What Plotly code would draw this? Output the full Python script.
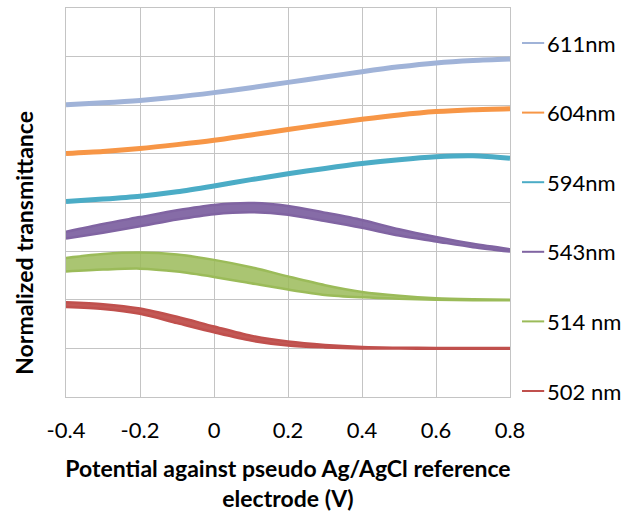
import plotly.graph_objects as go

potential = [-0.4, -0.3, -0.2, -0.1, 0.0, 0.1, 0.2, 0.3, 0.4, 0.5, 0.6, 0.7, 0.8]

t611 = [6.01, 6.05, 6.10, 6.17, 6.26, 6.36, 6.47, 6.58, 6.69, 6.79, 6.87, 6.92, 6.95]
t604 = [5.01, 5.05, 5.11, 5.19, 5.28, 5.39, 5.50, 5.61, 5.71, 5.80, 5.87, 5.91, 5.93]
t594 = [4.02, 4.07, 4.13, 4.22, 4.34, 4.47, 4.59, 4.70, 4.80, 4.88, 4.94, 4.96, 4.91]
t543_hi = [3.40, 3.56, 3.70, 3.84, 3.95, 3.99, 3.93, 3.79, 3.64, 3.45, 3.29, 3.15, 3.04]
t543_lo = [3.26, 3.38, 3.51, 3.65, 3.76, 3.80, 3.75, 3.62, 3.48, 3.32, 3.20, 3.08, 2.99]
t514_hi = [2.86, 2.94, 2.97, 2.93, 2.82, 2.67, 2.48, 2.30, 2.16, 2.08, 2.03, 2.01, 2.00]
t514_lo = [2.58, 2.62, 2.64, 2.58, 2.47, 2.34, 2.21, 2.10, 2.05, 2.02, 2.00, 1.99, 1.99]
t502_hi = [1.95, 1.91, 1.82, 1.65, 1.45, 1.26, 1.14, 1.07, 1.03, 1.015, 1.01, 1.01, 1.01]
t502_lo = [1.85, 1.81, 1.71, 1.52, 1.33, 1.16, 1.06, 1.02, 1.00, 0.995, 0.99, 0.99, 0.99]

x_ticks = [-0.4, -0.2, 0, 0.2, 0.4, 0.6, 0.8]
x_tick_labels = ["-0.4", "-0.2", "0", "0.2", "0.4", "0.6", "0.8"]

names = ["611nm", "604nm", "594nm", "543nm", "514 nm", "502 nm"]
colors = ["#A0B3D8", "#F79646", "#4BACC6", "#8064A2", "#9BBB59", "#C0504D"]

FONT = "Lato"

fig = go.Figure()

single = {"611nm": t611, "604nm": t604, "594nm": t594}
bands = {"543nm": (t543_hi, t543_lo), "514 nm": (t514_hi, t514_lo), "502 nm": (t502_hi, t502_lo)}


def rgba(hexc, a):
    h = hexc.lstrip("#")
    r, g, b = int(h[0:2], 16), int(h[2:4], 16), int(h[4:6], 16)
    return f"rgba({r},{g},{b},{a})"


for name, col in zip(names, colors):
    if name in single:
        fig.add_trace(go.Scatter(x=potential, y=single[name], mode="lines", name=name,
                                 line=dict(color=col, width=5, shape="spline", smoothing=0.8),
                                 showlegend=False))
    else:
        hi, lo = bands[name]
        fig.add_trace(go.Scatter(x=potential, y=hi, mode="lines", showlegend=False,
                                 line=dict(color=col, width=2.5, shape="spline", smoothing=0.8),
                                 hoverinfo="skip"))
        fig.add_trace(go.Scatter(x=potential, y=lo, mode="lines", showlegend=False, name=name,
                                 line=dict(color=col, width=2.5, shape="spline", smoothing=0.8),
                                 fill="tonexty",
                                 fillcolor=rgba(col, 0.85 if name == "514 nm" else 0.95)))

# Legend drawn at the right, Excel style
shapes = []
annotations = []
plot_top, plot_h = 8, 389
for i, (name, col) in enumerate(zip(names, colors)):
    py = 43 + i * 69.6
    yp = (plot_top + plot_h - py) / plot_h
    shapes.append(dict(type="line", xref="paper", yref="paper",
                       x0=1.027, x1=1.077, y0=yp, y1=yp,
                       line=dict(color=col, width=2)))
    annotations.append(dict(text=name, xref="paper", yref="paper", x=1.079, y=yp,
                            xanchor="left", yanchor="middle", showarrow=False,
                            font=dict(family=FONT, size=22, color="black")))

annotations.append(dict(text="<b>Normalized transmittance</b>", textangle=-90,
                        xref="paper", yref="paper", x=-0.095, y=0.396,
                        xanchor="center", yanchor="middle", showarrow=False,
                        font=dict(family=FONT, size=23, color="black")))

fig.update_layout(
    width=637, height=515,
    margin=dict(l=66, r=127, t=8, b=118),
    paper_bgcolor="white", plot_bgcolor="white",
    font=dict(family=FONT, size=21, color="black"),
    showlegend=False,
    shapes=shapes,
    annotations=annotations,
    xaxis=dict(range=[-0.4, 0.8], tickvals=x_ticks, ticktext=x_tick_labels,
               showgrid=True, gridcolor="#C4C4C4", gridwidth=1,
               showline=True, linecolor="#C4C4C4", mirror=True,
               zeroline=False, ticks="", ticklabelstandoff=14,
               tickfont=dict(family=FONT, size=22),
               title=dict(text="<b>Potential against pseudo Ag/AgCl reference<br>electrode (V)</b>",
                          font=dict(family=FONT, size=23), standoff=18)),
    yaxis=dict(range=[0, 8], dtick=1, showticklabels=False,
               showgrid=True, gridcolor="#C4C4C4", gridwidth=1,
               showline=True, linecolor="#C4C4C4", mirror=True,
               zeroline=False, ticks=""),
)

fig.write_html("out.html")
